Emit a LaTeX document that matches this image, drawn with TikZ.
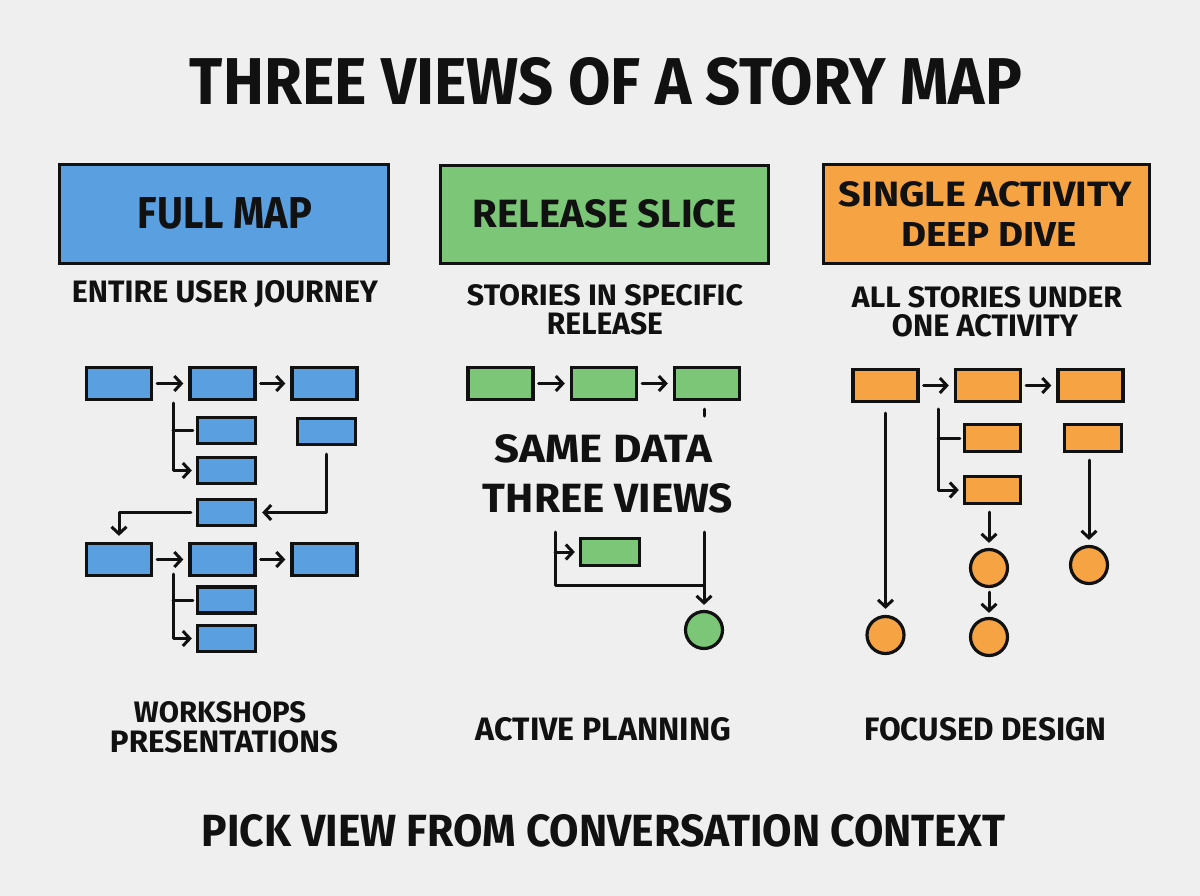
\documentclass[tikz,border=0pt]{standalone}
\usepackage{fontspec}
\setmainfont{Fira Sans}
\usepackage{graphicx}
\usetikzlibrary{arrows.meta}
\definecolor{bg}{HTML}{EFEFEF}
\definecolor{cblue}{HTML}{5A9FE0}
\definecolor{cgreen}{HTML}{7BC677}
\definecolor{corange}{HTML}{F6A343}
\definecolor{ink}{HTML}{111111}
\newcommand{\fitt}[3]{\resizebox{#1pt}{#2pt}{\bfseries #3}}
\tikzset{
  txt/.style={inner sep=0pt, outer sep=0pt, text=ink},
  hdr/.style={draw=ink, line width=3.8pt, inner sep=0pt},
  card/.style={draw=ink, line width=3.3pt, inner sep=0pt, minimum width=65pt, minimum height=32pt},
  smallcard/.style={card, minimum width=58pt, minimum height=26pt},
  dot/.style={circle, draw=ink, line width=3.2pt, minimum size=37pt, inner sep=0pt},
  ln/.style={draw=ink, line width=3pt, line cap=round, line join=round},
  arr/.style={ln, -{Straight Barb[length=7pt,width=15pt]}},
}
\begin{document}
\begin{tikzpicture}[x=1pt, y=-1pt]
\fill[bg] (0,0) rectangle (1200,896);
\useasboundingbox (0,0) rectangle (1200,896);

% title
\node[txt] (title) at (606,81.5) {\fitt{832}{47}{THREE VIEWS OF A STORY MAP}};

% header boxes
\node[hdr, fill=cblue, minimum width=329pt, minimum height=99pt] (h1) at (224,214) {};
\node[hdr, fill=cgreen, minimum width=328pt, minimum height=98pt] (h2) at (604.5,214.5) {};
\node[hdr, fill=corange, minimum width=326pt, minimum height=99pt] (h3) at (986.5,214) {};
\node[txt] (h1t) at (225,213.5) {\fitt{174}{31}{FULL MAP}};
\node[txt] (h2t) at (605,214) {\fitt{264}{28}{RELEASE SLICE}};
\node[txt] (h3a) at (985.5,194.5) {\fitt{293}{25}{SINGLE ACTIVITY}};
\node[txt] (h3b) at (989,234.7) {\fitt{176}{24}{DEEP DIVE}};

% subtitles
\node[txt] (s1) at (225,294) {\fitt{306}{22}{ENTIRE USER JOURNEY}};
\node[txt] (s2a) at (605,295) {\fitt{276}{21}{STORIES IN SPECIFIC}};
\node[txt] (s2b) at (605,324) {\fitt{116}{22}{RELEASE}};
\node[txt] (s3a) at (987,297.5) {\fitt{270}{21}{ALL STORIES UNDER}};
\node[txt] (s3b) at (985,326) {\fitt{186}{22}{ONE ACTIVITY}};

% ---------- blue: full map ----------
\begin{scope}[every node/.append style={fill=cblue}]
\node[card] (b11) at (119,383.5) {};
\node[card] (b12) at (222.5,383.5) {};
\node[card] (b13) at (324.5,383.5) {};
\node[smallcard] (b22) at (226.5,430.5) {};
\node[smallcard] (b23) at (326.5,431.5) {};
\node[smallcard] (b32) at (226.5,470.5) {};
\node[smallcard] (b42) at (226.5,512.5) {};
\node[card] (b51) at (119,559.5) {};
\node[card] (b52) at (222.5,559.5) {};
\node[card] (b53) at (324.5,559.5) {};
\node[smallcard] (b62) at (226.5,600) {};
\node[smallcard] (b72) at (226.5,638.5) {};
\end{scope}
\draw[arr, shorten <=4pt, shorten >=5pt] (b11) -- (b12);
\draw[arr, shorten <=4pt, shorten >=5pt] (b12) -- (b13);
\draw[arr, shorten <=4pt, shorten >=5pt] (b51) -- (b52);
\draw[arr, shorten <=4pt, shorten >=5pt] (b52) -- (b53);
\coordinate (bt1) at (173,403);
\draw[ln, shorten >=3pt] (bt1 |- b22.west) -- (b22.west);
\draw[arr, shorten >=4pt] (bt1) |- (b32.west);
\coordinate (bt2) at (173,574);
\draw[ln, shorten >=3pt] (bt2 |- b62.west) -- (b62.west);
\draw[arr, shorten >=4pt] (bt2) |- (b72.west);
\draw[arr, shorten <=8pt, shorten >=5pt] (b23.south) |- (b42.east);
\draw[arr, shorten <=5pt, shorten >=6pt] (b42.west) -| (b51.north);

% ---------- green: release slice ----------
\begin{scope}[every node/.append style={fill=cgreen}]
\node[card] (g1) at (500.5,383.5) {};
\node[card] (g2) at (604,383.5) {};
\node[card] (g3) at (707,383.5) {};
\node[smallcard, minimum width=59pt, minimum height=27pt] (g4) at (610,552) {};
\node[dot] (gc) at (704,630) {};
\end{scope}
\draw[arr, shorten <=4pt, shorten >=5pt] (g1) -- (g2);
\draw[arr, shorten <=4pt, shorten >=5pt] (g2) -- (g3);
\draw[ln] ([xshift=-3pt,yshift=-8pt]g3.south) -- ++(0,7);
\node[txt] (same1) at (603.5,449) {\fitt{217}{28}{SAME DATA}};
\node[txt] (same2) at (608,498) {\fitt{250}{29}{THREE VIEWS}};
\coordinate (gl) at (555,532);
\coordinate (gr) at (704,532);
\coordinate (gj) at (704,585);
\draw[ln] (gl) |- (gj);
\draw[arr, shorten >=5pt] (gr) -- (gc.north);
\draw[arr, shorten >=4pt] (gl |- g4.west) -- (g4.west);

% ---------- orange: single activity ----------
\begin{scope}[every node/.append style={fill=corange}]
\node[card] (o11) at (885.5,385.5) {};
\node[card] (o12) at (988,385.5) {};
\node[card] (o13) at (1090.5,385.5) {};
\node[smallcard, minimum width=56pt, minimum height=27pt] (o22) at (992.5,438) {};
\node[smallcard, minimum width=57pt, minimum height=27pt] (o23) at (1093,438) {};
\node[smallcard, minimum width=56pt, minimum height=27pt] (o32) at (992.5,490) {};
\node[dot] (oc1) at (885.5,635) {};
\node[dot] (oc2) at (989,568) {};
\node[dot] (oc3) at (989,637) {};
\node[dot] (oc4) at (1089,565) {};
\end{scope}
\draw[arr, shorten <=4pt, shorten >=5pt] (o11) -- (o12);
\draw[arr, shorten <=4pt, shorten >=5pt] (o12) -- (o13);
\coordinate (ot) at (938,409);
\draw[ln, shorten >=3pt] (ot |- o22.west) -- (o22.west);
\draw[arr, shorten >=4pt] (ot) |- (o32.west);
\draw[arr, shorten <=10pt, shorten >=6pt] (o11.south) -- (oc1.north);
\draw[arr, shorten <=7pt, shorten >=5pt] (o32.south -| oc2.north) -- (oc2.north);
\draw[arr, shorten <=4pt, shorten >=4pt] (oc2.south) -- (oc3.north);
\draw[arr, shorten <=7pt, shorten >=5pt] (o23.south -| oc4.north) -- (oc4.north);

% bottom labels
\node[txt] (u1a) at (220,712.5) {\fitt{172}{21}{WORKSHOPS}};
\node[txt] (u1b) at (224,741.5) {\fitt{228}{22}{PRESENTATIONS}};
\node[txt] (u2) at (603.5,729.5) {\fitt{255}{23}{ACTIVE PLANNING}};
\node[txt] (u3) at (985.5,729.5) {\fitt{242}{23}{FOCUSED DESIGN}};
\node[txt] (foot) at (603.5,831) {\fitt{803}{32}{PICK VIEW FROM CONVERSATION CONTEXT}};
\end{tikzpicture}
\end{document}
